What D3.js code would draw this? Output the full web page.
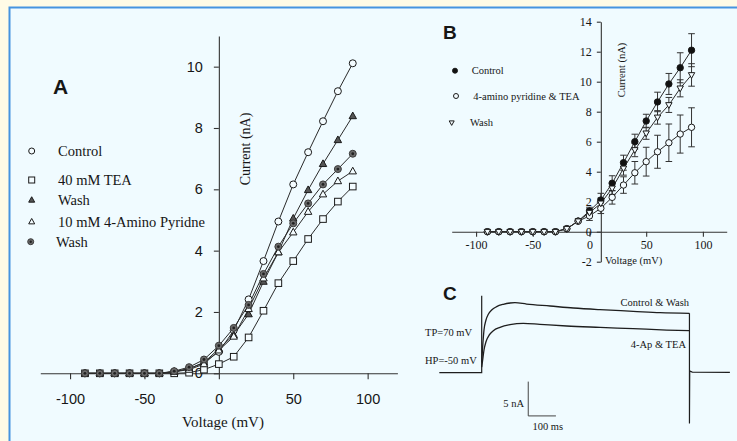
<!DOCTYPE html>
<html>
<head>
<meta charset="utf-8">
<script src="https://cdn.jsdelivr.net/npm/d3@7"></script>
<style>
  html, body { margin: 0; padding: 0; background: #fffbe6; }
  svg { display: block; }
  .serif { font-family: "Liberation Serif", "Times New Roman", serif; fill: #161616; }
  .sans { font-family: "Liberation Sans", Arial, sans-serif; fill: #161616; }
  .axis path, .axis line { stroke: #333; stroke-width: 1.1; }
</style>
</head>
<body>
<script>
// ---- Panel A : I/V curves, five conditions
const voltsA = [-90, -80, -70, -60, -50, -40, -30, -20, -10, 0, 10, 20, 30, 40, 50, 60, 70, 80, 90];
const controlA = [0, 0, 0, 0, 0, 0, 0.05, 0.15, 0.35, 0.7, 1.4, 2.41, 3.66, 4.95, 6.16, 7.21, 8.22, 9.2, 10.11];
const teaA = [0, 0, 0, 0, 0, 0, 0, 0.02, 0.12, 0.3, 0.54, 1.17, 2.04, 2.94, 3.66, 4.38, 5.03, 5.6, 6.09];
const washA = [0, 0, 0, 0, 0, 0, 0.05, 0.15, 0.35, 0.8, 1.25, 1.93, 2.99, 3.95, 5.05, 5.98, 6.83, 7.61, 8.39];
const apA = [0, 0, 0, 0, 0, 0, 0.05, 0.12, 0.3, 0.75, 1.2, 2.1, 3.1, 3.95, 4.6, 5.27, 5.84, 6.27, 6.59];
const wash2A = [0, 0, 0, 0, 0, 0, 0.07, 0.2, 0.45, 0.9, 1.48, 2.23, 3.24, 4.13, 4.89, 5.54, 6.16, 6.66, 7.16];
const legendA = ["Control", "40 mM TEA", "Wash", "10 mM 4-Amino Pyridne", "Wash"];
const ticksAx = [-100, -50, 0, 50, 100];
const ticksAy = [0, 2, 4, 6, 8, 10];

// ---- Panel B : mean I/V with error bars
const voltsB = [-90, -80, -70, -60, -50, -40, -30, -20, -10, 0, 10, 20, 30, 40, 50, 60, 70, 80, 90];
const controlB = [0, 0, 0, 0, 0, 0, 0, 0.2, 0.71, 1.38, 2.11, 3.23, 4.6, 6.0, 7.38, 8.65, 9.85, 10.93, 12.1];
const controlErrB = [0, 0, 0, 0, 0, 0, 0, 0.05, 0.1, 0.25, 0.45, 0.5, 0.5, 0.5, 0.45, 0.65, 0.7, 1.0, 1.1];
const apB = [0, 0, 0, 0, 0, 0, 0, 0.2, 0.7, 1.05, 1.56, 2.29, 3.11, 3.93, 4.67, 5.33, 5.93, 6.51, 6.96];
const apErrB = [0, 0, 0, 0, 0, 0, 0, 0.05, 0.1, 0.3, 0.35, 0.45, 0.55, 0.75, 0.96, 1.1, 1.25, 1.27, 1.3];
const washB = [0, 0, 0, 0, 0, 0, 0, 0.2, 0.7, 1.27, 1.89, 2.89, 4.22, 5.45, 6.56, 7.62, 8.45, 9.56, 10.45];
const washErrB = [0, 0, 0, 0, 0, 0, 0, 0.05, 0.1, 0.25, 0.35, 0.4, 0.45, 0.45, 0.4, 0.45, 0.5, 0.57, 0.75];
const legendB = ["Control", "4-amino pyridine & TEA", "Wash"];
const ticksBx = [-100, -50, 0, 50, 100];
const ticksBy = [-2, 0, 2, 4, 6, 8, 10, 12, 14];

// ---- Panel C : current traces, [time ms, current nA]
const holdC = [[-153, 0], [0, 0], [0, 11.2]];
const controlC = [[0, 1.5], [3.5, 3.8], [8.3, 6.22], [15.5, 7.68], [23.9, 8.51], [36, 9.14], [54, 9.63], [78, 9.97],
  [102, 10.16], [120, 10.21], [162, 10.01], [247, 9.72], [331, 9.43], [427, 9.19], [547, 8.95], [644, 8.75], [750, 8.65]];
const apC = [[0, 0.8], [3.5, 1.85], [8.3, 3.31], [15.5, 4.52], [27.5, 5.5], [42, 6.13], [66, 6.61], [102, 7.0],
  [150, 7.2], [210, 7.05], [307, 6.81], [427, 6.61], [547, 6.42], [668, 6.22], [750, 6.13]];
const offC = [[750, 8.65], [750, -7.4], [751, 0.25], [760, 0.08], [896, 0.05]];
const scaleBarC = [[168, -1.3], [168, -6.3], [268, -6.3]];

let svg = null;
let xA, yA, xB, yB, xC, yC;

appendSvg("body");
appendFrame();
setupScales();
drawPanelA();
drawPanelB();
drawPanelC();

function appendSvg(domElement) {
  svg = d3.select(domElement).append("svg")
    .attr("width", 737)
    .attr("height", 441);
}

function appendFrame() {
  svg.append("rect").attr("width", 737).attr("height", 441).attr("fill", "#fffbe6");
  svg.append("rect")
    .attr("x", 9.5).attr("y", 7.5)
    .attr("width", 740).attr("height", 445)
    .attr("fill", "#f0fbff")
    .attr("stroke", "#4694e0")
    .attr("stroke-width", 2);
}

function setupScales() {
  xA = d3.scaleLinear().domain([-120, 120]).range([40.3, 397.4]);
  yA = d3.scaleLinear().domain([0, 11]).range([373.3, 36]);
  xB = d3.scaleLinear().domain([-121.5, 121]).range([451.7, 726.7]);
  yB = d3.scaleLinear().domain([-2, 14]).range([261.7, 21.7]);
  xC = d3.scaleLinear().domain([0, 100]).range([481.7, 509.4]);
  yC = d3.scaleLinear().domain([0, 5]).range([372.7, 338.4]);
}

function styleAxis(g, cls, size) {
  g.attr("class", "axis");
  g.selectAll("text").attr("class", cls).style("font-size", size + "px").attr("fill", "#161616");
}

function marker(g, type, x, y, s) {
  // s = base size in px
  if (type === "circle" || type === "dot" || type === "greydot") {
    g.append("circle").attr("cx", x).attr("cy", y).attr("r", s / 2)
      .attr("fill", type === "circle" ? "#f4fcff" : (type === "dot" ? "#111" : "#6b6b6b"))
      .attr("stroke", type === "greydot" ? "#3a3a3a" : "#1a1a1a").attr("stroke-width", 1);
    if (type === "greydot") {
      g.append("circle").attr("cx", x).attr("cy", y).attr("r", s / 5).attr("fill", "#222");
    }
  } else if (type === "square") {
    g.append("rect").attr("x", x - s / 2).attr("y", y - s / 2).attr("width", s).attr("height", s)
      .attr("fill", "#f4fcff").attr("stroke", "#1a1a1a").attr("stroke-width", 1);
  } else if (type === "tri" || type === "filltri") {
    const h = s * 0.9;
    g.append("path")
      .attr("d", `M${x},${y - h * 0.6}L${x + s / 2},${y + h * 0.4}L${x - s / 2},${y + h * 0.4}Z`)
      .attr("fill", type === "tri" ? "#f4fcff" : "#555").attr("stroke", "#1a1a1a").attr("stroke-width", 1);
  } else if (type === "downtri") {
    const h = s * 0.9;
    g.append("path")
      .attr("d", `M${x},${y + h * 0.6}L${x + s / 2},${y - h * 0.4}L${x - s / 2},${y - h * 0.4}Z`)
      .attr("fill", "#f4fcff").attr("stroke", "#1a1a1a").attr("stroke-width", 1);
  }
}

function drawPanelA() {
  const g = svg.append("g");

  const xAxis = g.append("g")
    .attr("transform", `translate(0, ${yA(0)})`)
    .call(d3.axisBottom(xA).tickValues(ticksAx).tickSize(6).tickSizeOuter(0).tickPadding(14).tickFormat(d => String(d)));
  styleAxis(xAxis, "sans", 14.5);

  const yAxis = g.append("g")
    .attr("transform", `translate(${xA(0)}, 0)`)
    .call(d3.axisLeft(yA).tickValues(ticksAy).tickSize(5).tickSizeOuter(0).tickPadding(11).tickFormat(d => String(d)));
  styleAxis(yAxis, "sans", 14.5);

  const series = [
    { vals: controlA, type: "circle", s: 7 },
    { vals: teaA, type: "square", s: 6.6 },
    { vals: washA, type: "filltri", s: 7.4 },
    { vals: apA, type: "tri", s: 7.4 },
    { vals: wash2A, type: "greydot", s: 7 }
  ];

  const line = d3.line().x((d, i) => xA(voltsA[i])).y(d => yA(d));
  series.forEach(function(sr) {
    g.append("path").datum(sr.vals).attr("d", line)
      .attr("fill", "none").attr("stroke", "#2a2a2a").attr("stroke-width", 1);
  });
  series.forEach(function(sr) {
    sr.vals.forEach(function(v, i) { marker(g, sr.type, xA(voltsA[i]), yA(v), sr.s); });
  });

  // legend
  const legY = [151, 180, 200, 221.7, 241.7];
  const legX = [31.7, 31.7, 31.7, 31.7, 30.7];
  legendA.forEach(function(name, i) {
    marker(g, series[i].type, legX[i], legY[i], 6);
    g.append("text").attr("class", "serif").attr("x", i === 4 ? 56 : 58).attr("y", legY[i])
      .attr("dy", "0.35em").style("font-size", "14.5px").text(name);
  });

  g.append("text").attr("class", "sans").attr("x", 53).attr("y", 94)
    .style("font-size", "21px").style("font-weight", "bold").text("A");

  g.append("text").attr("class", "serif")
    .attr("transform", "translate(250, 149) rotate(-90)")
    .attr("text-anchor", "middle").style("font-size", "14px").text("Current (nA)");

  g.append("text").attr("class", "serif").attr("x", 223).attr("y", 427)
    .attr("text-anchor", "middle").style("font-size", "15px").text("Voltage (mV)");
}

function drawPanelB() {
  const g = svg.append("g");

  const xAxis = g.append("g")
    .attr("transform", `translate(0, ${yB(0)})`)
    .call(d3.axisBottom(xB).tickValues(ticksBx).tickSize(5).tickSizeOuter(0).tickPadding(4).tickFormat(d => String(d)));
  styleAxis(xAxis, "serif", 12);

  const yAxis = g.append("g")
    .attr("transform", `translate(${xB(10)}, 0)`)
    .call(d3.axisLeft(yB).tickValues(ticksBy).tickSize(4).tickSizeOuter(0).tickPadding(5).tickFormat(d => String(d)));
  styleAxis(yAxis, "serif", 12);

  const series = [
    { vals: controlB, err: controlErrB, type: "dot" },
    { vals: apB, err: apErrB, type: "circle" },
    { vals: washB, err: washErrB, type: "downtri" }
  ];

  // error bars
  series.forEach(function(sr) {
    sr.vals.forEach(function(v, i) {
      const e = sr.err[i];
      if (e < 0.2) return;
      const x = xB(voltsB[i]);
      g.append("path")
        .attr("d", `M${x},${yB(v - e)}V${yB(v + e)}M${x - 3.3},${yB(v + e)}H${x + 3.3}M${x - 3.3},${yB(v - e)}H${x + 3.3}`)
        .attr("stroke", "#333").attr("stroke-width", 1).attr("fill", "none");
    });
  });

  const line = d3.line().x((d, i) => xB(voltsB[i])).y(d => yB(d));
  series.forEach(function(sr) {
    g.append("path").datum(sr.vals).attr("d", line)
      .attr("fill", "none").attr("stroke", "#2a2a2a").attr("stroke-width", 1);
  });
  series.forEach(function(sr) {
    sr.vals.forEach(function(v, i) { marker(g, sr.type, xB(voltsB[i]), yB(v), 6.4); });
  });

  // legend
  const legY = [70.7, 96, 122.7];
  const legMX = [455, 456, 451.7];
  const legTX = [471.7, 473.3, 470];
  legendB.forEach(function(name, i) {
    marker(g, series[i].type, legMX[i], legY[i], 5);
    g.append("text").attr("class", "serif").attr("x", legTX[i]).attr("y", legY[i])
      .attr("dy", "0.35em").style("font-size", "10.5px").text(name);
  });

  g.append("text").attr("class", "sans").attr("x", 443).attr("y", 39)
    .style("font-size", "19px").style("font-weight", "bold").text("B");

  g.append("text").attr("class", "serif")
    .attr("transform", "translate(625, 70) rotate(-90)")
    .attr("text-anchor", "middle").style("font-size", "10.5px").text("Current (nA)");

  g.append("text").attr("class", "serif").attr("x", 605).attr("y", 264)
    .style("font-size", "10.5px").text("Voltage (mV)");
}

function drawPanelC() {
  const g = svg.append("g");
  const lin = d3.line().x(d => xC(d[0])).y(d => yC(d[1]));
  const smooth = d3.line().x(d => xC(d[0])).y(d => yC(d[1])).curve(d3.curveMonotoneX);

  [holdC, offC].forEach(function(pts) {
    g.append("path").datum(pts).attr("d", lin)
      .attr("fill", "none").attr("stroke", "#1e1e1e").attr("stroke-width", 1.2);
  });
  [controlC, apC].forEach(function(pts) {
    g.append("path").datum(pts).attr("d", smooth)
      .attr("fill", "none").attr("stroke", "#1e1e1e").attr("stroke-width", 1.3);
  });
  g.append("path").datum(scaleBarC).attr("d", lin)
    .attr("fill", "none").attr("stroke", "#444").attr("stroke-width", 1);

  g.append("text").attr("class", "sans").attr("x", 443).attr("y", 300)
    .style("font-size", "19px").style("font-weight", "bold").text("C");

  const labels = [
    { t: "Control & Wash", x: 689, y: 302.7, a: "end" },
    { t: "4-Ap & TEA", x: 686, y: 344, a: "end" },
    { t: "TP=70 mV", x: 425, y: 332.7, a: "start" },
    { t: "HP=-50 mV", x: 425, y: 360, a: "start" },
    { t: "5 nA", x: 524, y: 403.3, a: "end" },
    { t: "100 ms", x: 547.7, y: 426.7, a: "middle" }
  ];
  labels.forEach(function(l) {
    g.append("text").attr("class", "serif").attr("x", l.x).attr("y", l.y)
      .attr("dy", "0.35em").attr("text-anchor", l.a).style("font-size", "10.5px").text(l.t);
  });
}
</script>
</body>
</html>
